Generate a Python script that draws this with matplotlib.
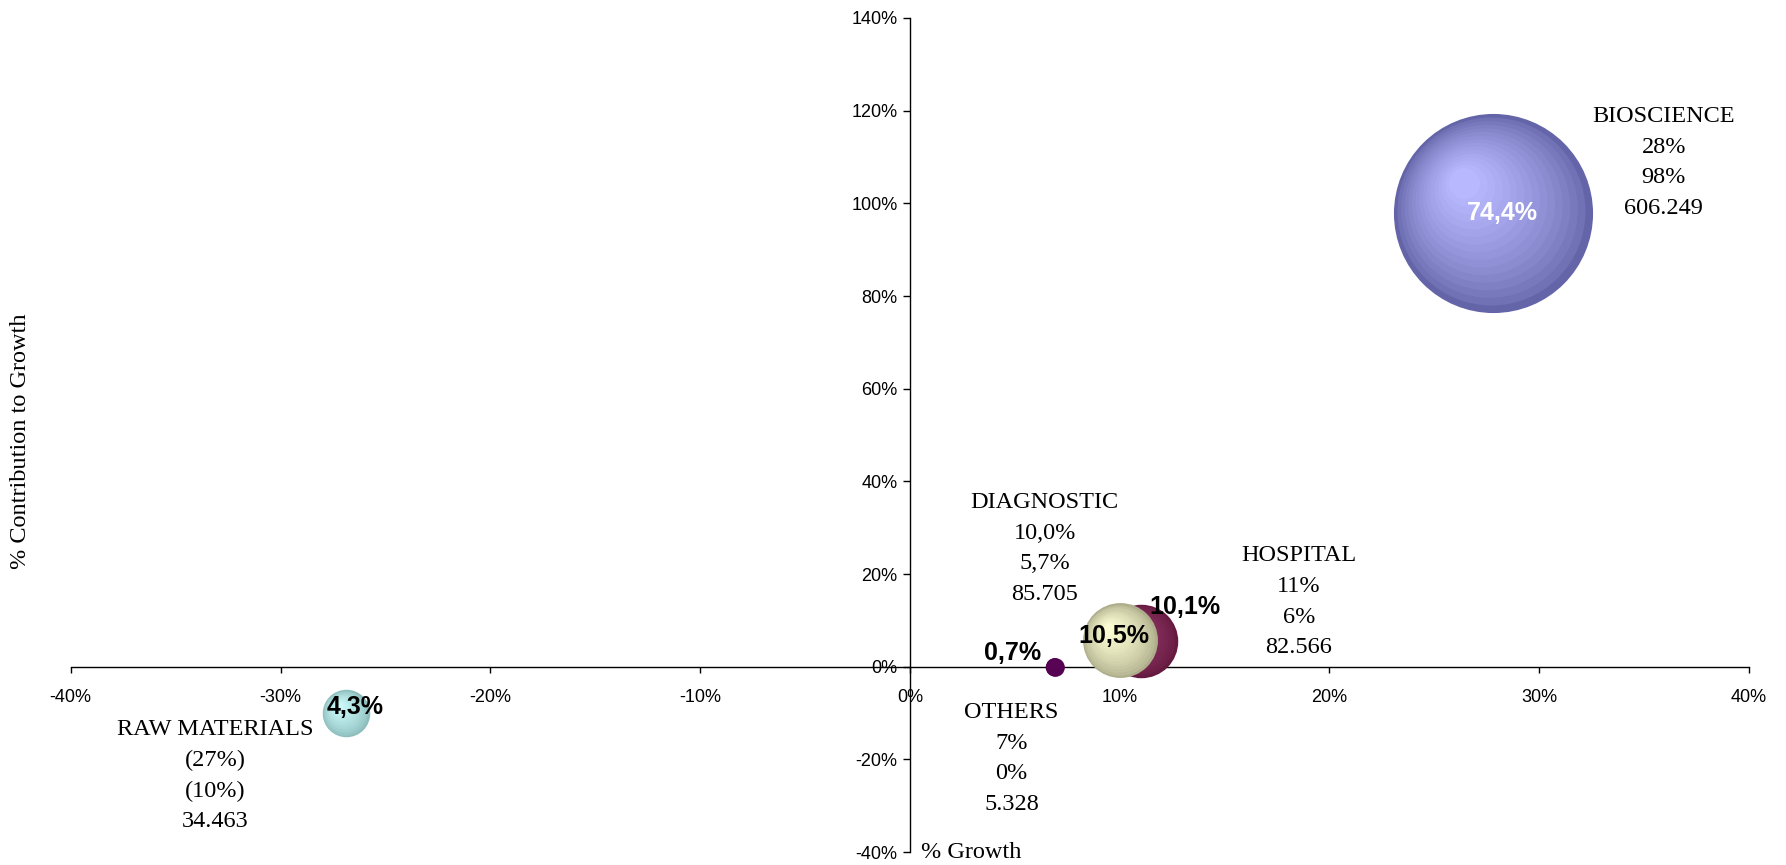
import numpy as np
import matplotlib
matplotlib.use("Agg")
import matplotlib.pyplot as plt
from matplotlib.transforms import offset_copy
from matplotlib.ticker import FuncFormatter

# data (values in %)
names = ["BIOSCIENCE", "HOSPITAL", "DIAGNOSTIC", "OTHERS", "RAW MATERIALS"]
growth = [27.8, 11.0, 10.0, 6.9, -26.9]
contrib = [98.0, 5.6, 5.7, 0.0, -10.0]
sales = [606.249, 82.566, 85.705, 5.328, 34.463]
share_lbl = ["74,4%", "10,1%", "10,5%", "0,7%", "4,3%"]
growth_lbl = ["28%", "11%", "10,0%", "7%", "(27%)"]
contrib_lbl = ["98%", "6%", "5,7%", "0%", "(10%)"]
sales_lbl = ["606.249", "82.566", "85.705", "5.328", "34.463"]

# styling per bubble
outer_c = ["#6464a8", "#661a40", "#aeae8c", "#550050", "#8cbcbc"]
inner_c = ["#b8b8ff", "#923868", "#fbfbd2", "#5a0456", "#c8f8f8"]
share_col = ["white", "black", "black", "black", "black"]
share_off = [(7, 0), (32, 24), (-4, 3), (-10, 10), (7, 4)]   # points
share_ha = ["center", "center", "center", "right", "center"]
name_off = [(123, 36), (114, 28), (-54, 66), (-31, -66), (-94, -45)]

serif = "Liberation Serif"
sans = "Liberation Sans"

fig = plt.figure(figsize=(17.86, 8.65), dpi=100)
ax = fig.add_axes([0.0396, 0.0150, 0.9397, 0.9642])

ax.set_xlim(-40, 40)
ax.set_ylim(-40, 140)
ax.set_xticks(np.arange(-40, 41, 10))
ax.set_yticks(np.arange(-40, 141, 20))
pct = FuncFormatter(lambda v, p: "%d%%" % round(v))
ax.xaxis.set_major_formatter(pct)
ax.yaxis.set_major_formatter(pct)

for s in ["top", "right"]:
    ax.spines[s].set_visible(False)
ax.spines["left"].set_position(("data", 0))
ax.spines["bottom"].set_position(("data", 0))
ax.spines["left"].set_linewidth(1.0)
ax.spines["bottom"].set_linewidth(1.0)
ax.tick_params(axis="x", direction="out", length=4, width=1, pad=12, labelsize=13)
ax.tick_params(axis="y", direction="out", length=5, width=1, pad=4, labelsize=13)
for lab in ax.get_xticklabels() + ax.get_yticklabels():
    lab.set_fontfamily(sans)


def mix(c1, c2, t):
    a = np.array(matplotlib.colors.to_rgb(c1))
    b = np.array(matplotlib.colors.to_rgb(c2))
    return tuple(a + (b - a) * t)


# bubble area proportional to sales (largest ~143pt across)
k = 33.9
n = 16
for i in range(len(names)):
    d = np.sqrt(sales[i] * k)  # diameter in points
    for j in range(n):
        t = 1 - 0.9 * j / n
        off = (1 - t) * 0.35 * d / 2
        tr = offset_copy(ax.transData, fig=fig, x=-off, y=off, units="points")
        ax.scatter([growth[i]], [contrib[i]], s=(d * t) ** 2,
                   color=mix(outer_c[i], inner_c[i], (j / (n - 1)) ** 0.7),
                   linewidths=0, transform=tr, zorder=3 + i * 0.01)

    ax.annotate(share_lbl[i], (growth[i], contrib[i]), xytext=share_off[i], textcoords="offset points",
                ha=share_ha[i], va="center", fontsize=18, fontweight="bold", family=sans,
                color=share_col[i], zorder=10)
    txt = "\n".join([names[i], growth_lbl[i], contrib_lbl[i], sales_lbl[i]])
    ax.annotate(txt, (growth[i], contrib[i]), xytext=name_off[i], textcoords="offset points",
                ha="center", va="center", multialignment="center", fontsize=17.5, family=serif,
                linespacing=1.6, zorder=10)

ax.annotate("% Growth", (0, -40), xytext=(8, 0), textcoords="offset points", ha="left", va="center",
            fontsize=17.5, family=serif)
fig.text(0.0112, 0.49, "% Contribution to Growth", rotation=90, ha="center", va="center",
         fontsize=17.5, family=serif)

fig.savefig("out.png", dpi=100)
